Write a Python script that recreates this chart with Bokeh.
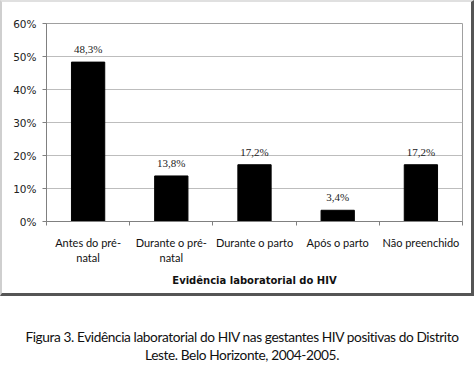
from bokeh.plotting import figure
from bokeh.models import ColumnDataSource, FixedTicker, Range1d, Div, LabelSet
from bokeh.layouts import column
from bokeh.embed import file_html
from bokeh.resources import INLINE

categories = ["Antes do pré-natal", "Durante o pré-natal", "Durante o parto", "Após o parto", "Não preenchido"]
tick_labels = ["Antes do pré-\nnatal", "Durante o pré-\nnatal", "Durante o parto", "Após o parto", "Não preenchido"]
values = [48.3, 13.8, 17.2, 3.4, 17.2]
value_labels = ["48,3%", "13,8%", "17,2%", "3,4%", "17,2%"]
y_ticks = [0, 10, 20, 30, 40, 50, 60]
y_tick_labels = ["0%", "10%", "20%", "30%", "40%", "50%", "60%"]
axis_title = "Evidência laboratorial do HIV"
caption = ("Figura 3. Evidência laboratorial do HIV nas gestantes HIV positivas do Distrito<br>"
           "Leste. Belo Horizonte, 2004-2005.")

xs = [i + 0.5 for i in range(len(categories))]
src = ColumnDataSource(dict(x=xs, top=values, lab=value_labels, cat=categories))

p = figure(width=469, height=291, output_backend="svg", toolbar_location=None,
           x_range=Range1d(0, len(categories)), y_range=Range1d(0, 60),
           min_border_left=44, min_border_right=9, min_border_top=21, min_border_bottom=72)

p.vbar(x="x", top="top", width=0.4, bottom=0, source=src,
       fill_color="black", line_color="black")

labels = LabelSet(x="x", y="top", text="lab", source=src, text_align="center",
                  text_baseline="bottom", y_offset=7, text_font_size="11px",
                  text_font="DejaVu Sans", text_color="#222222")
p.add_layout(labels)

# x axis
p.xaxis.ticker = FixedTicker(ticks=xs, minor_ticks=list(range(len(categories) + 1)))
p.xaxis.major_label_overrides = {x: t for x, t in zip(xs, tick_labels)}
p.xaxis.major_tick_line_color = None
p.xaxis.minor_tick_line_color = "#808080"
p.xaxis.minor_tick_in = 0
p.xaxis.minor_tick_out = 4
p.xaxis.axis_line_color = "#808080"
p.xaxis.major_label_text_font = "Lato"
p.xaxis.major_label_text_font_size = "11px"
p.xaxis.major_label_text_color = "#111111"
p.xaxis.major_label_standoff = 8
p.xaxis.axis_label = axis_title
p.xaxis.axis_label_text_font = "DejaVu Sans"
p.xaxis.axis_label_text_font_style = "bold"
p.xaxis.axis_label_text_font_size = "10px"
p.xaxis.axis_label_text_color = "#111111"
p.xaxis.axis_label_standoff = 8

# y axis
p.yaxis.ticker = FixedTicker(ticks=y_ticks)
p.yaxis.major_label_overrides = {t: l for t, l in zip(y_ticks, y_tick_labels)}
p.yaxis.major_tick_in = 0
p.yaxis.major_tick_out = 4
p.yaxis.minor_tick_line_color = None
p.yaxis.major_tick_line_color = "#808080"
p.yaxis.axis_line_color = "#808080"
p.yaxis.major_label_text_font = "DejaVu Sans"
p.yaxis.major_label_text_font_size = "10.5px"
p.yaxis.major_label_text_color = "#222222"
p.yaxis.major_label_standoff = 6

p.xgrid.grid_line_color = None
p.ygrid.grid_line_color = "#bdbdbd"
p.ygrid.grid_line_width = 1
p.outline_line_color = "#a0a0a0"
p.background_fill_color = "white"
p.border_fill_color = "white"

box = column(p, spacing=0,
             styles={"border-left": "2px solid #cfcfcf", "border-top": "2px solid #e0e0e0",
                     "border-right": "3px solid #555555", "border-bottom": "3px solid #555555"})

cap = Div(text=caption, width=474, height=64,
          styles={"text-align": "center", "font-family": "Lato", "font-size": "13.7px",
                  "letter-spacing": "-0.4px", "white-space": "nowrap",
                  "line-height": "18px", "color": "#111111", "padding-top": "27px",
                  "width": "474px"})

layout = column(box, cap, spacing=0)
open("out.html", "w").write(file_html(layout, INLINE))
